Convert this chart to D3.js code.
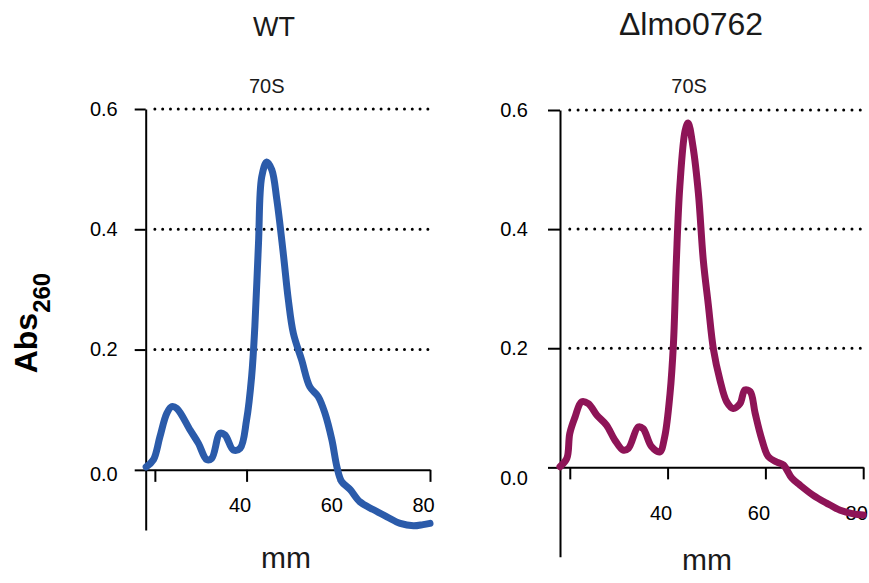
<!DOCTYPE html>
<html>
<head>
<meta charset="utf-8">
<script src="https://cdn.jsdelivr.net/npm/d3@7"></script>
<style>
  body { margin: 0; background: #fff; }
  text { font-family: "Liberation Sans", Arial, sans-serif; }
</style>
</head>
<body>
<div id="visual"></div>
<script>
// WT profile (mm along gradient, Abs260)
const wtMm = [18.1, 19.7, 21.1, 22.6, 23.7, 24.8, 27.7, 29.5, 31.3, 32.4, 34.2, 35.3, 37.1, 38.6, 40.0, 41.1, 41.8, 42.6, 43.3, 44.4, 45.5, 46.6, 48.0, 49.1, 50.2, 52.0, 53.8, 55.6, 57.1, 58.6, 59.7, 60.7, 62.6, 64.7, 67.6, 70.6, 73.5, 76.4, 78.5, 80.0];
const wtAbs = [0.005, 0.017, 0.055, 0.094, 0.105, 0.102, 0.066, 0.044, 0.017, 0.019, 0.061, 0.058, 0.033, 0.036, 0.083, 0.155, 0.238, 0.377, 0.487, 0.512, 0.499, 0.449, 0.36, 0.283, 0.227, 0.183, 0.138, 0.122, 0.094, 0.05, 0.005, -0.019, -0.033, -0.053, -0.066, -0.078, -0.089, -0.093, -0.091, -0.089];

// Δlmo0762 profile
const koMm = [18.0, 19.4, 20.0, 21.1, 22.4, 23.8, 25.5, 27.5, 29.2, 30.9, 32.0, 34.0, 35.0, 36.7, 38.4, 39.4, 40.5, 41.2, 41.8, 42.5, 43.6, 44.2, 45.2, 46.3, 47.3, 48.3, 49.4, 50.7, 52.1, 53.4, 54.8, 55.8, 56.9, 57.9, 59.3, 60.6, 62.3, 63.7, 65.4, 67.1, 69.8, 72.5, 75.3, 78.0, 80.0];
const koAbs = [0.001, 0.015, 0.057, 0.085, 0.11, 0.107, 0.088, 0.071, 0.046, 0.029, 0.032, 0.068, 0.065, 0.035, 0.026, 0.051, 0.124, 0.208, 0.348, 0.471, 0.566, 0.578, 0.538, 0.46, 0.348, 0.275, 0.197, 0.147, 0.11, 0.099, 0.107, 0.13, 0.127, 0.091, 0.046, 0.018, 0.009, 0.004, -0.018, -0.03, -0.047, -0.06, -0.072, -0.078, -0.08];

const xTicks = [20, 40, 60, 80];
const xTickLabels = ["", "40", "60", "80"];
const yTicks = [0, 0.2, 0.4, 0.6];
const gridTicks = [0.2, 0.4, 0.6];
const titles = ["WT", "\u0394lmo0762"];

const W = 869, H = 583;
const font = '"Liberation Sans", Arial, sans-serif';

const svg = d3.select("#visual")
  .append("svg")
    .attr("width", W)
    .attr("height", H);

const panels = [
  {
    title: titles[0], mm: wtMm, abs: wtAbs, color: "#2b5baa",
    xRange: [145.7, 430], yDomain: [-0.1, 0.6], yRange: [530, 109],
    yTickSize: 11, yPad: 17, xTickSize: 12, xPad: 15.5, zeroDy: 4, dotGap: 7.8,
    titleX: 274, titleY: 36, titleSize: 27, peakY: 93, xLabelX: 286, xLabelY: 568
  },
  {
    title: titles[1], mm: koMm, abs: koAbs, color: "#8e1457",
    xRange: [560, 863.2], yDomain: [-0.15, 0.6], yRange: [556.7, 110],
    yTickSize: 12, yPad: 20, xTickSize: 12, xPad: 26.5, zeroDy: 11, dotGap: 8.3,
    titleX: 691, titleY: 35, titleSize: 32, peakY: 92.7, xLabelX: 707, xLabelY: 570
  }
];

panels.forEach(function(p) {
  const x = d3.scaleLinear().domain([18, 80]).range(p.xRange);
  const y = d3.scaleLinear().domain(p.yDomain).range(p.yRange);
  const g = svg.append("g");

  // dotted gridlines
  g.selectAll("line.grid")
    .data(gridTicks)
    .enter()
    .append("line")
      .attr("class", "grid")
      .attr("x1", x(20))
      .attr("x2", x(80))
      .attr("y1", function(d) { return y(d); })
      .attr("y2", function(d) { return y(d); })
      .attr("stroke", "#000")
      .attr("stroke-width", 3)
      .attr("stroke-linecap", "round")
      .attr("stroke-dasharray", "0 " + p.dotGap);

  // Y axis
  const yAxis = g.append("g")
    .attr("transform", "translate(" + x(18) + ",0)")
    .call(d3.axisLeft(y)
      .tickValues(yTicks)
      .tickFormat(d3.format(".1f"))
      .tickSize(p.yTickSize)
      .tickSizeOuter(0)
      .tickPadding(p.yPad));

  // X axis
  const xAxis = g.append("g")
    .attr("transform", "translate(0," + y(0) + ")")
    .call(d3.axisBottom(x)
      .tickValues(xTicks)
      .tickFormat(function(d, i) { return xTickLabels[i]; })
      .tickSize(p.xTickSize)
      .tickSizeOuter(0)
      .tickPadding(p.xPad));

  [yAxis, xAxis].forEach(function(a) {
    a.select(".domain").attr("stroke", "#000").attr("stroke-width", 2);
    a.selectAll(".tick line").attr("stroke", "#000").attr("stroke-width", 2);
    a.selectAll(".tick text")
      .attr("fill", "#000")
      .style("font-family", font)
      .style("font-size", "20px");
  });
  xAxis.selectAll(".tick text").attr("dx", -7);
  yAxis.selectAll(".tick text")
    .filter(function(d) { return d === 0; })
    .attr("dy", function() { return (0.32 * 20 + p.zeroDy) + "px"; });

  // profile line
  const line = d3.line()
    .x(function(d, i) { return x(p.mm[i]); })
    .y(function(d) { return y(d); })
    .curve(d3.curveCatmullRom);

  g.append("path")
    .datum(p.abs)
    .attr("d", line)
    .attr("fill", "none")
    .attr("stroke", p.color)
    .attr("stroke-width", 7)
    .attr("stroke-linecap", "round")
    .attr("stroke-linejoin", "round");

  // texts
  g.append("text")
    .attr("x", p.titleX)
    .attr("y", p.titleY)
    .attr("text-anchor", "middle")
    .attr("fill", "#1a1a1a")
    .style("font-size", p.titleSize + "px")
    .text(p.title);

  g.append("text")
    .attr("x", x(44.4))
    .attr("y", p.peakY)
    .attr("text-anchor", "middle")
    .attr("fill", "#1a1a1a")
    .style("font-size", "20px")
    .text("70S");

  g.append("text")
    .attr("x", p.xLabelX)
    .attr("y", p.xLabelY)
    .attr("text-anchor", "middle")
    .attr("fill", "#1a1a1a")
    .style("font-size", "30px")
    .text("mm");
});

// shared y label
const yLab = svg.append("text")
  .attr("transform", "translate(37.3,373.3) rotate(-90)")
  .attr("fill", "#000")
  .style("font-size", "32px")
  .style("font-weight", "bold");
yLab.append("tspan").text("Abs");
yLab.append("tspan")
  .attr("dy", 12.7)
  .style("font-size", "24px")
  .text("260");
</script>
</body>
</html>
